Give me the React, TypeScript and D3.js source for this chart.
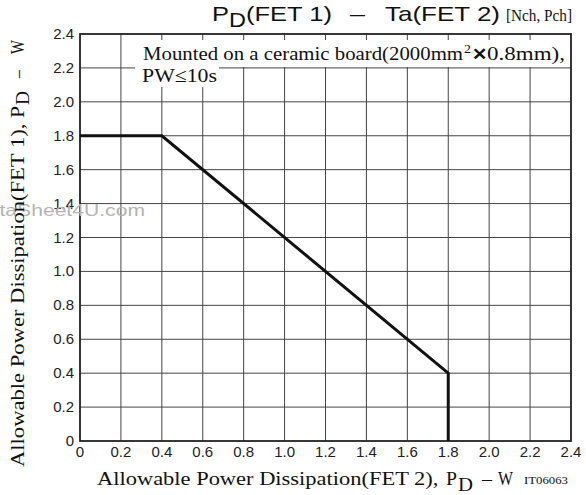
import React from "react";
import * as d3 from "d3";

const xTicks = [0, 0.2, 0.4, 0.6, 0.8, 1.0, 1.2, 1.4, 1.6, 1.8, 2.0, 2.2, 2.4];
const yTicks = [0, 0.2, 0.4, 0.6, 0.8, 1.0, 1.2, 1.4, 1.6, 1.8, 2.0, 2.2, 2.4];
const curveX = [0, 0.4, 1.8, 1.8];
const curveY = [1.8, 1.8, 0.4, 0];

const W = 586, H = 495;
const left = 80, right = 571, top = 34, bottom = 441;

const sans = "'Liberation Sans', Arial, sans-serif";
const serif = "'Liberation Serif', 'Times New Roman', serif";

function T(props: any) {
  const { x, y, len, children, ...rest } = props;
  return (
    <text x={x} y={y} textLength={len} lengthAdjust="spacingAndGlyphs" fill="#111" style={{ whiteSpace: "pre" }} {...rest}>
      {children}
    </text>
  );
}

export default function App() {
  const x = d3.scaleLinear().domain([0, 2.4]).range([left, right]);
  const y = d3.scaleLinear().domain([0, 2.4]).range([bottom, top]);
  const pts: [number, number][] = curveX.map((v, i) => [v, curveY[i]]);
  const line = d3.line<[number, number]>().x(d => x(d[0])).y(d => y(d[1]));
  const fmt = (v: number) => (v === 0 ? "0" : v.toFixed(1));
  return (
    <svg width={W} height={H} style={{ position: "absolute", left: 0, top: 0, background: "#fff" }}>
      <rect x={0} y={0} width={W} height={H} fill="#fff" />
      {/* grid */}
      {xTicks.slice(1, -1).map(t => (
        <line key={"gx" + t} x1={x(t)} x2={x(t)} y1={top} y2={bottom} stroke="#444" strokeWidth={1} />
      ))}
      {yTicks.slice(1, -1).map(t => (
        <line key={"gy" + t} x1={left} x2={right} y1={y(t)} y2={y(t)} stroke="#444" strokeWidth={1} />
      ))}
      {/* annotation boxes */}
      <rect x={135} y={40} width={right - 135} height={27} fill="#fff" />
      <rect x={135} y={66} width={84} height={21} fill="#fff" />
      <T x={143} y={60} len={320} fontFamily={serif} fontSize={19.5}>Mounted on a ceramic board(2000mm</T>
      <T x={464} y={53} len={7} fontFamily={serif} fontSize={12}>2</T>
      <T x={472} y={60} len={15} fontFamily={sans} fontSize={17} fontWeight="bold">✕</T>
      <T x={487} y={60} len={78} fontFamily={serif} fontSize={19.5}>0.8mm),</T>
      <T x={142} y={82} len={75} fontFamily={serif} fontSize={19.5}>PW≤10s</T>
      {/* border */}
      <rect x={left} y={top} width={right - left} height={bottom - top} fill="none" stroke="#222" strokeWidth={1.8} />
      {/* curve */}
      <path d={line(pts) || ""} fill="none" stroke="#111" strokeWidth={3} strokeLinejoin="miter" />
      {/* y ticks */}
      {yTicks.map(t => (
        <text key={"yt" + t} x={74} y={y(t) + 5} textAnchor="end" fontFamily={sans} fontSize={15} fill="#222">
          {fmt(t)}
        </text>
      ))}
      {/* x ticks */}
      {xTicks.map(t => (
        <text key={"xt" + t} x={x(t)} y={457} textAnchor="middle" fontFamily={sans} fontSize={15} fill="#222">
          {fmt(t)}
        </text>
      ))}
      {/* watermark */}
      <T x={-78} y={216} len={223} fontFamily={sans} fontSize={16.5} fill="#b4b4b4">www.DataSheet4U.com</T>
      {/* title */}
      <T x={212} y={21} len={17} fontFamily={sans} fontSize={21}>P</T>
      <T x={229} y={27} len={17} fontFamily={sans} fontSize={21}>D</T>
      <T x={246} y={21} len={86} fontFamily={sans} fontSize={21}>(FET 1)</T>
      <T x={350} y={21} len={15} fontFamily={sans} fontSize={21}>–</T>
      <T x={385} y={21} len={115} fontFamily={sans} fontSize={21}>Ta(FET 2)</T>
      <T x={506} y={21} len={66} fontFamily={serif} fontSize={16}>[Nch, Pch]</T>
      {/* x title */}
      <T x={97} y={485} len={347} fontFamily={serif} fontSize={19}>Allowable Power Dissipation(FET 2), </T>
      <T x={446} y={485} len={11} fontFamily={serif} fontSize={19}>P</T>
      <T x={458} y={491} len={15} fontFamily={serif} fontSize={19}>D</T>
      <T x={482} y={485} len={10} fontFamily={serif} fontSize={19}>–</T>
      <T x={498} y={485} len={15} fontFamily={serif} fontSize={19}>W</T>
      <T x={524} y={484} len={44} fontFamily={serif} fontSize={11}>IT06063</T>
      {/* y title */}
      <g transform="translate(24, 467) rotate(-90)">
        <T x={0} y={0} len={349} fontFamily={serif} fontSize={19}>Allowable Power Dissipation(FET 1), </T>
        <T x={349} y={0} len={12} fontFamily={serif} fontSize={19}>P</T>
        <T x={362} y={5} len={14} fontFamily={serif} fontSize={19}>D</T>
        <T x={389} y={0} len={8} fontFamily={serif} fontSize={19}>–</T>
        <T x={413} y={0} len={14} fontFamily={serif} fontSize={19}>W</T>
      </g>
    </svg>
  );
}
